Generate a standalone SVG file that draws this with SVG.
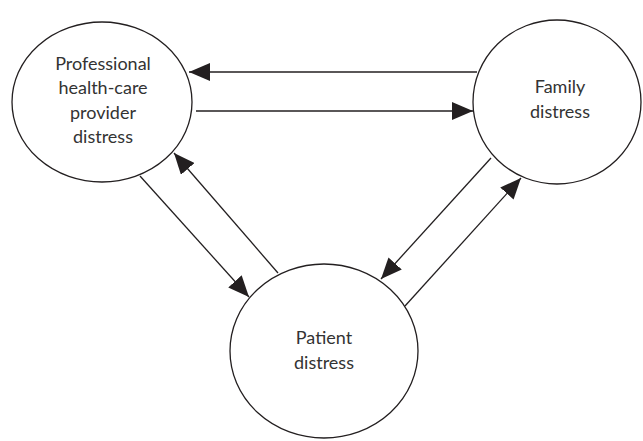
<svg xmlns="http://www.w3.org/2000/svg" width="643" height="441" viewBox="0 0 643 441">
<style>
.node{fill:#fff;stroke:#231f20;stroke-width:1.3}
.lbl{font-family:Lato,"Open Sans",sans-serif;font-size:18px;fill:#333;text-anchor:middle}
.conn{stroke:#231f20;stroke-width:1.3;fill:none;marker-end:url(#ah)}
</style>
<defs>
<marker id="ah" markerUnits="userSpaceOnUse" markerWidth="22" markerHeight="18" refX="21" refY="9" orient="auto">
<path d="M0,0 L21,9 L0,18 Z" fill="#231f20"/>
</marker>
</defs>
<rect width="643" height="441" fill="#fff"/>
<g id="professional">
<ellipse class="node" cx="102" cy="102" rx="90" ry="80"/>
<text class="lbl"><tspan x="103" y="70">Professional</tspan><tspan x="103" y="94">health-care</tspan><tspan x="103" y="119">provider</tspan><tspan x="103" y="143">distress</tspan></text>
</g>
<g id="family">
<ellipse class="node" cx="557" cy="102" rx="84" ry="82"/>
<text class="lbl"><tspan x="560" y="93">Family</tspan><tspan x="560" y="118">distress</tspan></text>
</g>
<g id="patient">
<ellipse class="node" cx="324" cy="351" rx="94" ry="87"/>
<text class="lbl"><tspan x="324" y="344">Patient</tspan><tspan x="324" y="369">distress</tspan></text>
</g>
<g id="connectors">
<line class="conn" x1="477" y1="72" x2="189" y2="72"/>
<line class="conn" x1="196" y1="111" x2="473" y2="111"/>
<line class="conn" x1="140" y1="176" x2="249" y2="297"/>
<line class="conn" x1="278" y1="273" x2="174" y2="153"/>
<line class="conn" x1="491" y1="158" x2="381" y2="279"/>
<line class="conn" x1="405" y1="306" x2="521" y2="178"/>
</g>
</svg>
